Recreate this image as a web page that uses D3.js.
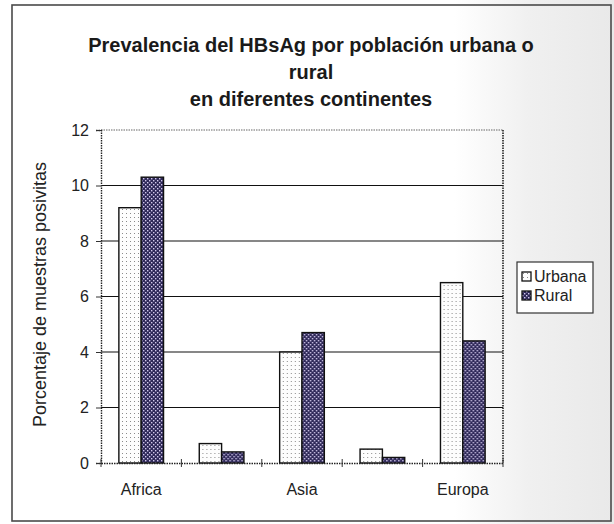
<!DOCTYPE html>
<html>
<head>
<meta charset="utf-8">
<script src="https://cdn.jsdelivr.net/npm/d3@7"></script>
<style>
  html, body { margin: 0; padding: 0; background: #fff; }
  svg { display: block; font-family: "Liberation Sans", Arial, sans-serif; }
</style>
</head>
<body>
<svg id="chart" width="614" height="524"></svg>
<script>
// Prevalence of HBsAg by urban / rural population per continent
const categories = ["Africa", "", "Asia", "", "Europa"];
const seriesNames = ["Urbana", "Rural"];
const urbana = [9.2, 0.7, 4.0, 0.5, 6.5];
const rural = [10.3, 0.4, 4.7, 0.2, 4.4];
const yTicks = [0, 2, 4, 6, 8, 10, 12];
const titleLines = ["Prevalencia del HBsAg por población urbana o", "rural", "en diferentes continentes"];
const yTitle = "Porcentaje de muestras posivitas";

const FONT = "'Liberation Sans', Arial, sans-serif";
const svg = d3.select("#chart");
const defs = svg.append("defs");

// Paper tint on the right side of the sheet
const grad = defs.append("linearGradient").attr("id", "paper").attr("x1", 0).attr("x2", 1).attr("y1", 0).attr("y2", 0);
grad.append("stop").attr("offset", "0.74").attr("stop-color", "#ffffff");
grad.append("stop").attr("offset", "0.86").attr("stop-color", "#f0f0f0");
grad.append("stop").attr("offset", "1").attr("stop-color", "#e9e9e9");
svg.append("rect").attr("width", 614).attr("height", 524).attr("fill", "url(#paper)");

// Fill patterns: light dotted for Urbana, dark checker for Rural
const pU = defs.append("pattern").attr("id", "patU").attr("patternUnits", "userSpaceOnUse")
  .attr("width", 4).attr("height", 4);
pU.append("rect").attr("width", 4).attr("height", 4).attr("fill", "#fdfdfd");
pU.append("rect").attr("x", 1).attr("y", 1).attr("width", 1).attr("height", 1).attr("fill", "#8a8a8a");

const pR = defs.append("pattern").attr("id", "patR").attr("patternUnits", "userSpaceOnUse")
  .attr("width", 4).attr("height", 4);
pR.append("rect").attr("width", 4).attr("height", 4).attr("fill", "#2e2858");
pR.append("rect").attr("x", 0).attr("y", 0).attr("width", 1.4).attr("height", 1.4).attr("fill", "#d2c8ec");
pR.append("rect").attr("x", 2).attr("y", 2).attr("width", 1.4).attr("height", 1.4).attr("fill", "#d2c8ec");

const fills = { Urbana: "url(#patU)", Rural: "url(#patR)" };

// Outer frame
svg.append("rect").attr("x", 12).attr("y", 5).attr("width", 599).attr("height", 516)
  .attr("fill", "none").attr("stroke", "#4a4a4a").attr("stroke-width", 1.6);

// Title
const title = svg.append("text").attr("text-anchor", "middle")
  .attr("font-size", 20).attr("font-weight", "bold").attr("fill", "#1a1a1a");
titleLines.forEach((t, i) => {
  title.append("tspan").attr("x", 311).attr("y", 52 + i * 27).text(t);
});

// Scales
const plot = { left: 101, right: 503, top: 130, bottom: 463 };
const x = d3.scaleBand().domain(d3.range(categories.length)).range([plot.left, plot.right]).padding(0);
const xSub = d3.scaleBand().domain(seriesNames).range([0, x.bandwidth()]).paddingInner(0).paddingOuter(0.8);
const y = d3.scaleLinear().domain([0, 12]).range([plot.bottom, plot.top]);

// Gridlines
svg.append("g").selectAll("line").data(yTicks.filter(v => v > 0 && v < 12)).join("line")
  .attr("x1", plot.left).attr("x2", plot.right)
  .attr("y1", d => y(d)).attr("y2", d => y(d))
  .attr("stroke", "#111").attr("stroke-width", 1.1);

// Plot area border (top and right, dotted)
svg.append("line").attr("x1", plot.left).attr("x2", plot.right).attr("y1", plot.top).attr("y2", plot.top)
  .attr("stroke", "#666").attr("stroke-width", 1).attr("stroke-dasharray", "1.5,1");
svg.append("line").attr("x1", plot.right).attr("x2", plot.right).attr("y1", plot.top).attr("y2", plot.bottom)
  .attr("stroke", "#222").attr("stroke-width", 1.6).attr("stroke-dasharray", "1.5,1");

// Bars
const rows = categories.map((c, i) => ({ i, values: [
  { key: "Urbana", value: urbana[i] },
  { key: "Rural", value: rural[i] }
]}));
svg.append("g").selectAll("g").data(rows).join("g")
  .attr("transform", d => `translate(${x(d.i)},0)`)
  .selectAll("rect").data(d => d.values).join("rect")
  .attr("x", d => xSub(d.key))
  .attr("width", xSub.bandwidth())
  .attr("y", d => y(d.value))
  .attr("height", d => y(0) - y(d.value))
  .attr("fill", d => fills[d.key])
  .attr("stroke", "#111").attr("stroke-width", 1.4);

// Y axis
const yAxis = svg.append("g").attr("transform", `translate(${plot.left},0)`)
  .call(d3.axisLeft(y).tickValues(yTicks).tickSize(5).tickPadding(7));
yAxis.attr("font-family", FONT).attr("font-size", 16);
yAxis.select(".domain").attr("stroke", "#222").attr("stroke-width", 1.4).attr("stroke-dasharray", "1.5,1");
yAxis.selectAll(".tick line").attr("stroke", "#333");
yAxis.selectAll(".tick text").attr("fill", "#222");

// X axis: labels at band centres, ticks on band boundaries
const xAxis = svg.append("g").attr("transform", `translate(0,${plot.bottom})`)
  .call(d3.axisBottom(x).tickFormat(i => categories[i]).tickSize(0).tickPadding(21));
xAxis.attr("font-family", FONT).attr("font-size", 16);
xAxis.select(".domain").attr("stroke", "#222").attr("stroke-width", 1.4).attr("stroke-dasharray", "1.5,1");
xAxis.selectAll(".tick text").attr("fill", "#222");
const bounds = d3.range(categories.length).map(i => x(i)).concat([x.range()[1]]);
svg.append("g").selectAll("line").data(bounds).join("line")
  .attr("x1", d => d).attr("x2", d => d)
  .attr("y1", plot.bottom - 4).attr("y2", plot.bottom + 4)
  .attr("stroke", "#333").attr("stroke-width", 1);

// Y axis title
svg.append("text")
  .attr("transform", `translate(46,${(plot.top + plot.bottom) / 2 - 2}) rotate(-90)`)
  .attr("text-anchor", "middle").attr("font-size", 18).attr("fill", "#222")
  .text(yTitle);

// Legend
const lg = svg.append("g").attr("transform", "translate(517,262)");
lg.append("rect").attr("width", 76).attr("height", 51).attr("fill", "#fff")
  .attr("stroke", "#333").attr("stroke-width", 1.2);
seriesNames.forEach((s, i) => {
  const row = lg.append("g").attr("transform", `translate(5,${10 + i * 19})`);
  row.append("rect").attr("width", 9).attr("height", 9).attr("fill", fills[s])
    .attr("stroke", "#111").attr("stroke-width", 1.3);
  row.append("text").attr("x", 12).attr("y", 10).attr("font-size", 16).attr("fill", "#222").text(s);
});
</script>
</body>
</html>
